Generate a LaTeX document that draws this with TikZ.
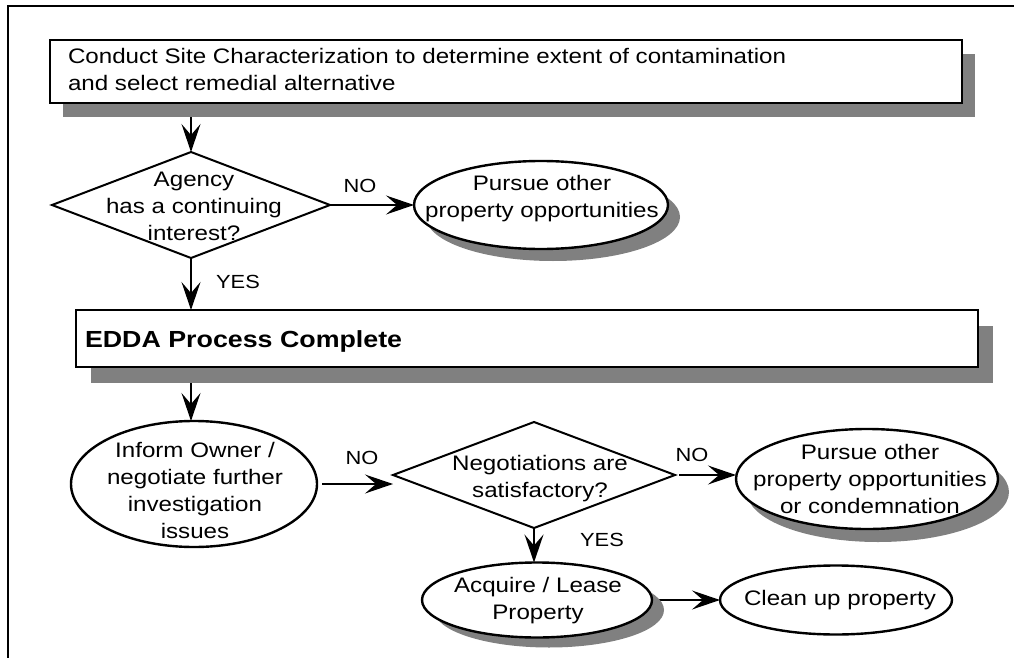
\documentclass[tikz,border=0pt]{standalone}
\usepackage{fontspec}
\setmainfont{Liberation Sans}[FakeStretch=1.15]
\usetikzlibrary{shapes.geometric, arrows.meta, shadows, backgrounds}
\definecolor{shadowgray}{HTML}{808080}
\begin{document}
\begin{tikzpicture}[x=1pt, y=-1pt,
  every node/.style={inner sep=0pt, outer sep=0pt},
  txt/.style={font=\fontsize{21}{27}\selectfont, align=center},
  lbl/.style={font=\fontsize{19}{22}\selectfont},
  boxshape/.style={draw, line width=2.2pt, fill=white, rectangle, anchor=north west},
  dia/.style={draw, line width=2pt, fill=white, diamond},
  ell/.style={draw, line width=2.4pt, fill=white, ellipse},
  shd/.style 2 args={drop shadow={shadow xshift=#1pt, shadow yshift=-#2pt, fill=shadowgray, opacity=1}},
  flow/.style={line width=1.5pt, -{Stealth[length=28pt, width=19pt, inset=11pt]}},
]
\useasboundingbox (0,0) rectangle (1017,658);
% frame
\draw[line width=2.2pt] (8,658) -- (8,6);
\draw[line width=1.4pt] (7,6) -- (1014,6);

% box 1
\node[boxshape, shd={13}{14}, minimum width=912pt, minimum height=63pt] (b1) at (50,40) {};
\node[txt, align=left, anchor=west] (t1) at (68,69) {Conduct Site Characterization to determine extent of contamination\\and select remedial alternative};

% decision 1
\node[dia, minimum width=278pt, minimum height=106pt] (d1) at (191,205) {};
\node[txt] (td1) at (194,206) {Agency\\has a continuing\\interest?};

% ellipse 1
\node[ell, shd={12}{12}, minimum width=254pt, minimum height=88pt] (e1) at (541,205) {};
\node[txt] (te1) at (542,199) {Pursue other\\property opportunities};

% box 2
\node[boxshape, shd={15}{16}, minimum width=902pt, minimum height=57pt] (b2) at (76,310) {};
\node[font=\bfseries\fontsize{23.3}{26}\selectfont, anchor=west] (t2) at (85,341) {EDDA Process Complete};

% ellipse 2
\node[ell, minimum width=246pt, minimum height=126pt] (e2) at (194,484) {};
\node[txt] (te2) at (195,490) {Inform Owner /\\negotiate further\\investigation\\issues};

% decision 2
\node[dia, minimum width=282pt, minimum height=106pt] (d2) at (534,475) {};
\node[txt] (td2) at (540,479) {Negotiations are\\satisfactory?};

% ellipse 3
\node[ell, shd={11}{13}, minimum width=262pt, minimum height=100pt] (e3) at (867,479) {};
\node[txt] (te3) at (870,479) {Pursue other\\property opportunities\\or condemnation};

% ellipse 4
\node[ell, shd={12}{10}, minimum width=230pt, minimum height=75pt] (e4) at (537,600) {};
\node[txt] (te4) at (538,601) {Acquire / Lease\\Property};

% ellipse 5
\node[ell, minimum width=232pt, minimum height=69pt] (e5) at (836,600) {};
\node[txt] (te5) at (840,600) {Clean up property};

% labels
\node[lbl] (no1) at (360,186) {NO};
\node[lbl] (yes1) at (238,282) {YES};
\node[lbl] (no2) at (362,458) {NO};
\node[lbl] (no3) at (692,455) {NO};
\node[lbl] (yes2) at (602,540) {YES};

% connectors
\begin{scope}[on background layer]
\draw[flow] (b1.south -| d1.north) -- (d1.north);
\draw[flow] (d1.east) -- (e1.west);
\draw[flow] (d1.south) -- (d1.south |- b2.north);
\draw[flow] (b2.south -| d1.south) -- (d1.south |- e2.north);
\draw[flow, shorten <=5pt] (e2.east) -- (e2.east -| d2.west);
\draw[flow, shorten <=4pt] (d2.east) -- (d2.east -| e3.west);
\draw[flow] (d2.south) -- (d2.south |- e4.north);
\draw[flow] (e4.east) -- (e4.east -| e5.west);
\end{scope}
\end{tikzpicture}
\end{document}
